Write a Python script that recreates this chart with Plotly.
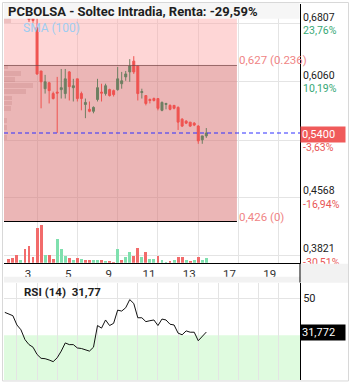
import plotly.graph_objects as go

# ---------------- data ----------------
day_labels = ["3", "5", "9", "11", "13", "17", "19"]
day_tick_idx = [7, 17, 27, 37, 47, 57, 67]

open_ = [0.767, 0.760, 0.752, 0.746, 0.749, 0.722, 0.690, 0.676, 0.6199, 0.5971,
         0.6047, 0.5908, 0.5927, 0.5959, 0.5908, 0.6187, 0.5984, 0.6098, 0.5908, 0.5768,
         0.5705, 0.5680, 0.5832, 0.5927, 0.5908, 0.5959, 0.5946, 0.5959, 0.6035, 0.6123,
         0.6187, 0.6326, 0.6263, 0.5921, 0.5882, 0.5832, 0.5844, 0.5844, 0.5692, 0.5768,
         0.5756, 0.5756, 0.5730, 0.5578, 0.5553, 0.5540, 0.5527, 0.5489, 0.5312, 0.5363]
high = [0.770, 0.763, 0.756, 0.752, 0.751, 0.725, 0.692, 0.690, 0.6199, 0.6149,
        0.6060, 0.5933, 0.6123, 0.6225, 0.6225, 0.6199, 0.6098, 0.6098, 0.5933, 0.5844,
        0.5806, 0.5743, 0.6098, 0.6035, 0.6035, 0.5971, 0.5959, 0.6250, 0.6187, 0.6199,
        0.6352, 0.6390, 0.6263, 0.5971, 0.5882, 0.5844, 0.5857, 0.5844, 0.5806, 0.5781,
        0.5768, 0.5756, 0.5743, 0.5591, 0.5565, 0.5540, 0.5540, 0.5502, 0.5363, 0.5464]
low = [0.758, 0.750, 0.744, 0.742, 0.718, 0.683, 0.682, 0.6149, 0.5718, 0.5908,
       0.5781, 0.5832, 0.5401, 0.5844, 0.5844, 0.5819, 0.5806, 0.5806, 0.5692, 0.5591,
       0.5667, 0.5654, 0.5806, 0.5806, 0.5882, 0.5870, 0.5870, 0.5946, 0.5971, 0.6073,
       0.6060, 0.6161, 0.5819, 0.5844, 0.5756, 0.5781, 0.5806, 0.5692, 0.5680, 0.5705,
       0.5692, 0.5705, 0.5439, 0.5477, 0.5515, 0.5477, 0.5489, 0.5261, 0.5261, 0.5337]
close = [0.760, 0.752, 0.746, 0.749, 0.722, 0.686, 0.685, 0.6161, 0.6060, 0.6060,
         0.5946, 0.5844, 0.5914, 0.5984, 0.6098, 0.5997, 0.6009, 0.5844, 0.5844, 0.5794,
         0.5680, 0.5730, 0.5984, 0.5914, 0.6009, 0.5882, 0.5895, 0.6098, 0.6073, 0.6161,
         0.6263, 0.6187, 0.5908, 0.5933, 0.5781, 0.5819, 0.5819, 0.5718, 0.5794, 0.5781,
         0.5705, 0.5718, 0.5540, 0.5489, 0.5527, 0.5489, 0.5502, 0.5299, 0.5363, 0.5400]
volume = [10, 11.8, 20, 8.3, 35, 43.3, 15.8, 87.5, 95, 20,
          20, 10, 60, 35, 18.3, 12.5, 8.3, 12.5, 10, 8.3,
          8.3, 8.3, 8.3, 7.5, 5.8, 5.8, 0.5, 35, 8.3, 14.3,
          26.8, 18.3, 38.3, 14.3, 26.8, 10, 10, 18.3, 8.3, 0.5,
          5.8, 8.3, 15.8, 14.3, 8.3, 5.8, 8.3, 15.8, 8.3, 13.3]
vol_up = [0, 0, 0, 1, 0, 0, 0, 0, 0, 1,
          0, 0, 1, 1, 1, 0, 1, 0, 1, 0,
          0, 1, 1, 0, 1, 0, 0, 1, 0, 1,
          1, 0, 0, 1, 0, 1, 1, 0, 1, 1,
          0, 1, 0, 0, 1, 0, 1, 0, 1, 1]
rsi = [42.4, 41.3, 40.6, 35.6, 33.0, 27.7, 25.0, 23.6, 19.7, 17.6,
       17.4, 16.7, 15.8, 17.9, 21.5, 25.9, 25.0, 25.0, 23.2, 22.9,
       22.3, 21.5, 23.6, 35.3, 33.9, 38.3, 35.3, 36.5, 43.6, 43.1,
       44.9, 49.3, 47.2, 39.5, 39.5, 37.4, 37.9, 38.3, 35.3, 38.8,
       38.3, 36.0, 35.6, 31.2, 30.3, 32.4, 31.7, 31.7, 27.1, 29.4, 31.77]
rsi_start_idx = -1

profile_price = [0.6846, 0.6250, 0.6168, 0.6092, 0.6016, 0.5933, 0.5851, 0.5787,
                 0.5711, 0.5559, 0.5470, 0.5337]
profile_vol = [70, 40, 170, 110, 290, 220, 80, 80, 70, 30, 30, 30]

price_ticks = [0.6807, 0.6060, 0.5300, 0.4568, 0.3821]
price_pct = ["23,76%", "10,19%", "-3,63%", "-16,94%", "-30,51%"]
fib_top = 0.689
fib_levels = [0.627, 0.426]
fib_labels = ["0,627 (0.236)", "0,426 (0)"]
fib_end_idx = 56.6
last_price = 0.5400
rsi_last = 31.772
title = "PCBOLSA - Soltec Intradia, Renta: -29,59%"
rsi_title = "RSI (14)&nbsp;&nbsp;31,77"

# ---------------- layout geometry ----------------
W, H = 353, 390
ML, MR, MT, MB = 4, 53, 4, 4
PH = H - MT - MB
PW = W - ML - MR


def ydom(top_px, bot_px):
    return [(H - MB - bot_px) / PH, (H - MB - top_px) / PH]


def py(px):
    return (H - MB - px) / PH


def pxx(px):
    return (px - ML) / PW


x_range = [-1.203, 72.25]
idx = list(range(len(close)))

GREEN_C = "#6e7f62"
RED_C = "#ef5350"

fig = go.Figure()

fig.add_trace(go.Bar(
    x=profile_vol, y=profile_price, orientation="h", width=0.0063,
    marker=dict(color="rgba(180,110,110,0.22)", line=dict(width=0)),
    xaxis="x3", yaxis="y", hoverinfo="skip", showlegend=False))

fig.add_trace(go.Bar(
    x=idx, y=volume, width=0.72,
    marker=dict(color=["#7fe0ae" if u else "#f26b6b" for u in vol_up], line=dict(width=0)),
    xaxis="x", yaxis="y3", showlegend=False, hoverinfo="skip"))

fig.add_trace(go.Candlestick(
    x=idx, open=open_, high=high, low=low, close=close,
    increasing=dict(line=dict(color=GREEN_C, width=1), fillcolor=GREEN_C),
    decreasing=dict(line=dict(color=RED_C, width=1), fillcolor=RED_C),
    whiskerwidth=0, xaxis="x", yaxis="y", showlegend=False, hoverinfo="skip"))

fig.add_trace(go.Scatter(
    x=[rsi_start_idx + j for j in range(len(rsi))], y=rsi, mode="lines",
    line=dict(color="#111111", width=1), xaxis="x2", yaxis="y2",
    showlegend=False, hoverinfo="skip"))


def fmt(v):
    return f"{v:.4f}".replace(".", ",")


ticktext = []
for v, p in zip(price_ticks, price_pct):
    col = "#e85656" if p.startswith("-") else "#36a875"
    ticktext.append(f"{fmt(v)}<br><span style='color:{col}'>{p}</span>")

price_dom = ydom(4, 267)
rsi_dom = ydom(287, 386)

fig.update_layout(
    width=W, height=H,
    margin=dict(l=ML, r=MR, t=MT, b=MB, pad=0),
    paper_bgcolor="white", plot_bgcolor="white",
    font=dict(family="Roboto", size=11, color="#222222"),
    showlegend=False,
    bargap=0,
    xaxis=dict(domain=[0, 1], range=x_range, anchor="y",
               tickvals=day_tick_idx, ticktext=day_labels, ticklabelshift=-9,
               showgrid=True, gridcolor="#e4e4e4", gridwidth=1, zeroline=False,
               showline=True, linecolor="#000000", linewidth=1, ticks="",
               tickfont=dict(size=11.5, color="#333333"),
               rangeslider=dict(visible=False)),
    yaxis=dict(domain=price_dom, range=[0.3727, 0.7062], side="right", anchor="x",
               tickvals=price_ticks, ticktext=ticktext,
               showgrid=True, gridcolor="#e4e4e4", zeroline=False,
               showline=True, linecolor="#000000", linewidth=1, ticks="",
               tickfont=dict(size=10.5, color="#222222")),
    yaxis3=dict(overlaying="y", range=[0, 657.5], visible=False, anchor="x"),
    xaxis3=dict(overlaying="x", range=[0, 2960], visible=False, anchor="y"),
    xaxis2=dict(domain=[0, 1], range=x_range, anchor="y2", matches="x",
                tickvals=list(range(2, 68, 5)), showticklabels=False,
                showgrid=True, gridcolor="#e4e4e4", zeroline=False,
                showline=False, ticks=""),
    yaxis2=dict(domain=rsi_dom, range=[5.9, 58.5], side="right", anchor="x2",
                tickvals=[50], ticktext=["50"],
                showgrid=True, gridcolor="#e4e4e4", zeroline=False,
                showline=True, linecolor="#000000", linewidth=1, ticks="",
                tickfont=dict(size=11, color="#222222")),
)

shapes = []
# RSI oversold band
shapes.append(dict(type="rect", xref="x2 domain", yref="y2", x0=0, x1=1, y0=5.9, y1=30,
                   fillcolor="#dffbdf", line=dict(width=0), layer="below"))
# Fibonacci zones
shapes.append(dict(type="rect", xref="x", yref="y", x0=x_range[0], x1=fib_end_idx,
                   y0=fib_levels[0], y1=fib_top, fillcolor="rgba(252,165,165,0.45)",
                   line=dict(width=0), layer="between"))
shapes.append(dict(type="rect", xref="x", yref="y", x0=x_range[0], x1=fib_end_idx,
                   y0=fib_levels[1], y1=fib_levels[0], fillcolor="rgba(215,110,110,0.5)",
                   line=dict(width=0), layer="between"))
shapes.append(dict(type="line", xref="x", yref="y", x0=x_range[0], x1=fib_end_idx,
                   y0=fib_levels[0], y1=fib_levels[0],
                   line=dict(color="rgba(120,70,70,0.75)", width=1), layer="above"))
shapes.append(dict(type="line", xref="x", yref="y", x0=x_range[0], x1=fib_end_idx,
                   y0=fib_levels[1], y1=fib_levels[1],
                   line=dict(color="#000000", width=1), layer="above"))
# last price line
shapes.append(dict(type="line", xref="x domain", yref="y", x0=0, x1=1,
                   y0=last_price, y1=last_price,
                   line=dict(color="#2f2fff", width=1, dash="4px,3px"), layer="above"))
# title bar
shapes.append(dict(type="rect", xref="paper", yref="paper", x0=pxx(4), x1=pxx(299.5),
                   y0=py(19), y1=py(3), fillcolor="#f6f6f6", line=dict(width=0), layer="above"))
# gray separator areas
shapes.append(dict(type="rect", xref="paper", yref="paper", x0=pxx(300.5), x1=pxx(348),
                   y0=py(287), y1=py(268), fillcolor="#f2f2f2", line=dict(width=0), layer="above"))
shapes.append(dict(type="rect", xref="paper", yref="paper", x0=pxx(4), x1=pxx(348),
                   y0=py(287), y1=py(281), fillcolor="#f2f2f2", line=dict(width=0), layer="above"))
shapes.append(dict(type="line", xref="paper", yref="paper", x0=pxx(300), x1=pxx(300),
                   y0=py(287), y1=py(268), line=dict(color="#000000", width=1), layer="above"))
# outer border
shapes.append(dict(type="rect", xref="paper", yref="paper", x0=pxx(2.5), x1=pxx(348.5),
                   y0=py(387), y1=py(2.5), fillcolor="rgba(0,0,0,0)",
                   line=dict(color="#d8d8d8", width=1), layer="above"))
fig.update_layout(shapes=shapes)

ann = []
ann.append(dict(text=title, xref="paper", yref="paper", x=pxx(6), y=py(11.5),
                xanchor="left", yanchor="middle", showarrow=False,
                font=dict(family="Roboto", size=13, color="#1e1e1e", weight="bold")))
ann.append(dict(text="SMA (100)", xref="paper", yref="paper", x=pxx(21), y=py(28.5),
                xanchor="left", yanchor="middle", showarrow=False,
                font=dict(size=12, color="#9dcdf2")))
for lv, lb in zip(fib_levels, fib_labels):
    ann.append(dict(text=lb, xref="x", yref="y", x=fib_end_idx, y=lv, yshift=5,
                    xanchor="left", yanchor="middle", showarrow=False,
                    font=dict(size=11.5, color="#f08585")))
ann.append(dict(text=fmt(last_price), xref="paper", yref="y", x=1, y=last_price,
                xanchor="left", yanchor="middle", yshift=-1, showarrow=False,
                bgcolor="#f05a5a", borderpad=1, width=42, align="left",
                font=dict(size=11, color="#ffffff")))
ann.append(dict(text=rsi_title, xref="paper", yref="paper", x=pxx(22), y=py(296.5),
                xanchor="left", yanchor="middle", showarrow=False,
                font=dict(size=11.5, color="#1e1e1e", weight="bold")))
ann.append(dict(text=f"{rsi_last:.3f}".replace(".", ","), xref="paper", yref="y2",
                x=1, y=rsi_last, xanchor="left", yanchor="middle", showarrow=False,
                bgcolor="#000000", borderpad=1, width=42, align="left",
                font=dict(size=11, color="#ffffff")))
fig.update_layout(annotations=ann)

fig.write_html("out.html")
